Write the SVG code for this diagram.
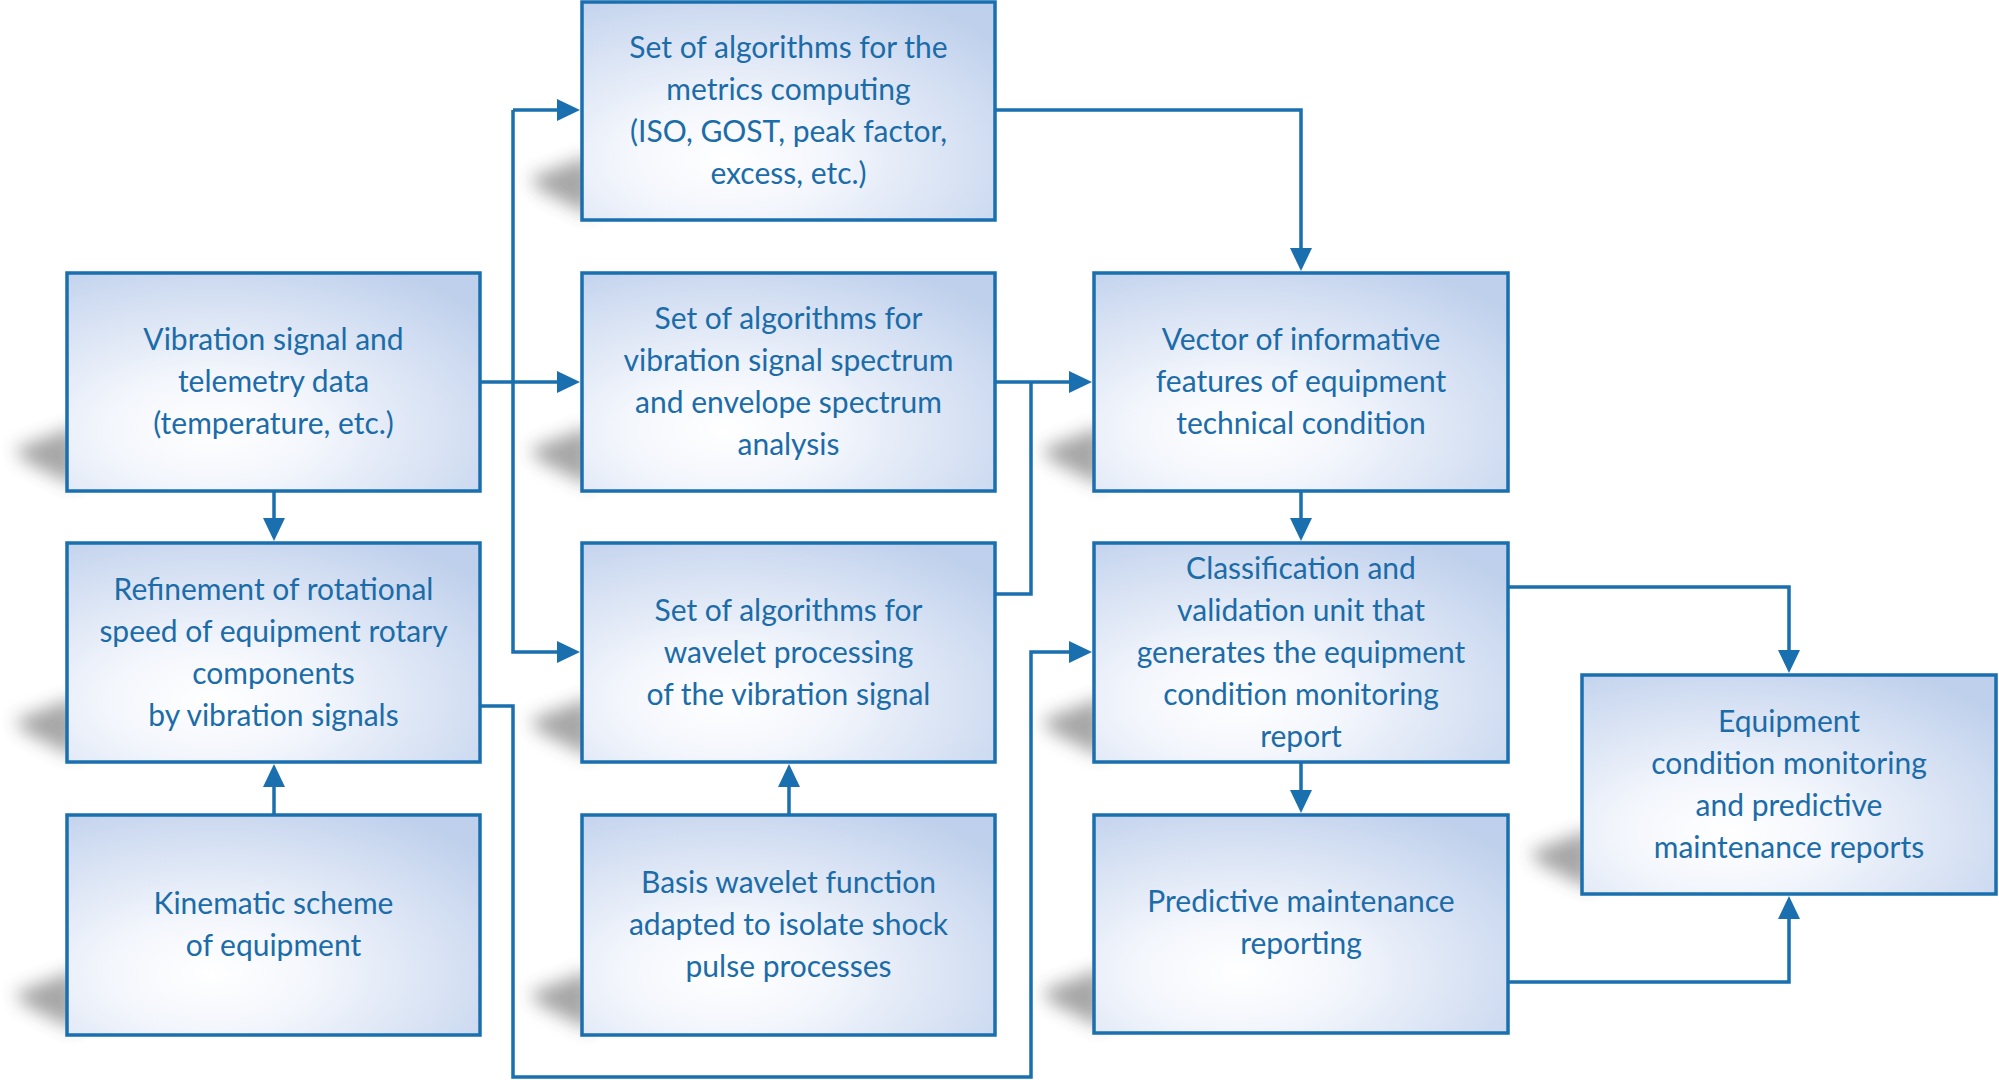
<svg xmlns="http://www.w3.org/2000/svg" width="1999" height="1080" viewBox="0 0 1999 1080">
<style>
.box{fill:url(#g);stroke:#1a6fae;stroke-width:3.5}
.sh{fill:#3a3a3a;opacity:0.45;filter:url(#blur)}
.t{font-family:Lato,"Open Sans","DejaVu Sans",sans-serif;font-size:30px;fill:#1b6ca8;text-anchor:middle}
.c{fill:none;stroke:#1a6fae;stroke-width:3.5;marker-end:url(#ah)}
.l{fill:none;stroke:#1a6fae;stroke-width:3.5}
</style>
<defs>
<radialGradient id="g" cx="0.35" cy="0.72" r="0.85">
<stop offset="0" stop-color="#ffffff"/>
<stop offset="0.3" stop-color="#f3f6fc"/>
<stop offset="1" stop-color="#bfd0ec"/>
</radialGradient>
<filter id="blur" x="-50%" y="-50%" width="200%" height="200%"><feGaussianBlur stdDeviation="9"/></filter>
<marker id="ah" markerUnits="userSpaceOnUse" markerWidth="23" markerHeight="22" refX="19" refY="11" orient="auto">
<path d="M0,0 L23,11 L0,22 Z" fill="#1a6fae"/>
</marker>
</defs>
<g id="connectors">
<path class="c" d="M480,382 H576"/>
<path class="l" d="M513,382 V110"/>
<path class="c" d="M513,110 H576"/>
<path class="c" d="M513,382 V652 H576"/>
<path class="c" d="M274,491 V537"/>
<path class="c" d="M274,815 V768"/>
<path class="c" d="M789,815 V768"/>
<path class="c" d="M995,110 H1301 V267"/>
<path class="c" d="M995,382 H1088"/>
<path class="l" d="M995,594 H1031 V382"/>
<path class="c" d="M480,706 H513 V1077 H1031 V652 H1088"/>
<path class="c" d="M1301,491 V537"/>
<path class="c" d="M1301,762 V809"/>
<path class="c" d="M1508,587 H1789 V669"/>
<path class="c" d="M1508,982 H1789 V900"/>
</g>
<g id="n-metrics">
<path class="sh" d="M592,155 L530,178 L540,190 L592,216 Z"/>
<rect class="box" x="582" y="2" width="413" height="218"/>
<text class="t" x="788.5" y="58">Set of algorithms for the</text>
<text class="t" x="788.5" y="100">metrics computing</text>
<text class="t" x="788.5" y="142">(ISO, GOST, peak factor,</text>
<text class="t" x="788.5" y="184">excess, etc.)</text>
</g>
<g id="n-vibration">
<path class="sh" d="M77,426 L15,449 L25,461 L77,487 Z"/>
<rect class="box" x="67" y="273" width="413" height="218"/>
<text class="t" x="273.5" y="350">Vibration signal and</text>
<text class="t" x="273.5" y="392">telemetry data</text>
<text class="t" x="273.5" y="434">(temperature, etc.)</text>
</g>
<g id="n-spectrum">
<path class="sh" d="M592,426 L530,449 L540,461 L592,487 Z"/>
<rect class="box" x="582" y="273" width="413" height="218"/>
<text class="t" x="788.5" y="329">Set of algorithms for</text>
<text class="t" x="788.5" y="371">vibration signal spectrum</text>
<text class="t" x="788.5" y="413">and envelope spectrum</text>
<text class="t" x="788.5" y="455">analysis</text>
</g>
<g id="n-vector">
<path class="sh" d="M1104,426 L1042,449 L1052,461 L1104,487 Z"/>
<rect class="box" x="1094" y="273" width="414" height="218"/>
<text class="t" x="1301" y="350">Vector of informative</text>
<text class="t" x="1301" y="392">features of equipment</text>
<text class="t" x="1301" y="434">technical condition</text>
</g>
<g id="n-refinement">
<path class="sh" d="M77,697 L15,720 L25,732 L77,758 Z"/>
<rect class="box" x="67" y="543" width="413" height="219"/>
<text class="t" x="273.5" y="600">Refinement of rotational</text>
<text class="t" x="273.5" y="642">speed of equipment rotary</text>
<text class="t" x="273.5" y="684">components</text>
<text class="t" x="273.5" y="726">by vibration signals</text>
</g>
<g id="n-wavelet">
<path class="sh" d="M592,697 L530,720 L540,732 L592,758 Z"/>
<rect class="box" x="582" y="543" width="413" height="219"/>
<text class="t" x="788.5" y="621">Set of algorithms for</text>
<text class="t" x="788.5" y="663">wavelet processing</text>
<text class="t" x="788.5" y="705">of the vibration signal</text>
</g>
<g id="n-classification">
<path class="sh" d="M1104,697 L1042,720 L1052,732 L1104,758 Z"/>
<rect class="box" x="1094" y="543" width="414" height="219"/>
<text class="t" x="1301" y="579">Classification and</text>
<text class="t" x="1301" y="621">validation unit that</text>
<text class="t" x="1301" y="663">generates the equipment</text>
<text class="t" x="1301" y="705">condition monitoring</text>
<text class="t" x="1301" y="747">report</text>
</g>
<g id="n-kinematic">
<path class="sh" d="M77,970 L15,993 L25,1005 L77,1031 Z"/>
<rect class="box" x="67" y="815" width="413" height="220"/>
<text class="t" x="273.5" y="914">Kinematic scheme</text>
<text class="t" x="273.5" y="956">of equipment</text>
</g>
<g id="n-basis">
<path class="sh" d="M592,970 L530,993 L540,1005 L592,1031 Z"/>
<rect class="box" x="582" y="815" width="413" height="220"/>
<text class="t" x="788.5" y="893">Basis wavelet function</text>
<text class="t" x="788.5" y="935">adapted to isolate shock</text>
<text class="t" x="788.5" y="977">pulse processes</text>
</g>
<g id="n-predictive">
<path class="sh" d="M1104,968 L1042,991 L1052,1003 L1104,1029 Z"/>
<rect class="box" x="1094" y="815" width="414" height="218"/>
<text class="t" x="1301" y="912">Predictive maintenance</text>
<text class="t" x="1301" y="954">reporting</text>
</g>
<g id="n-equipment">
<path class="sh" d="M1592,829 L1530,852 L1540,864 L1592,890 Z"/>
<rect class="box" x="1582" y="675" width="414" height="219"/>
<text class="t" x="1789" y="732">Equipment</text>
<text class="t" x="1789" y="774">condition monitoring</text>
<text class="t" x="1789" y="816">and predictive</text>
<text class="t" x="1789" y="858">maintenance reports</text>
</g>
</svg>
